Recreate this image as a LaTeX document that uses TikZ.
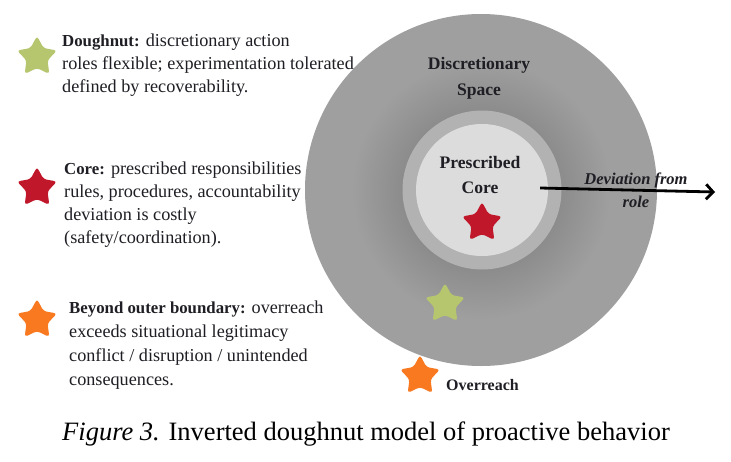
\documentclass[tikz,border=0pt]{standalone}
\usepackage{fontspec}
\setmainfont{Liberation Serif}
\usetikzlibrary{shapes.geometric,arrows.meta}
\definecolor{outerg}{HTML}{9F9F9F}
\definecolor{haloG}{HTML}{8B8B8B}
\definecolor{ringg}{HTML}{B2B2B2}
\definecolor{coreg}{HTML}{DCDCDC}
\definecolor{starG}{HTML}{B5C66F}
\definecolor{starR}{HTML}{C0172A}
\definecolor{starO}{HTML}{F8791F}
\definecolor{txt}{HTML}{1E1E24}
\pgfdeclareradialshading{halo}{\pgfpoint{0bp}{0bp}}{color(0bp)=(haloG); color(11bp)=(haloG); color(18.5bp)=(outerg); color(25bp)=(outerg); color(50bp)=(outerg)}
\newcommand{\lgb}[1]{{\fontsize{16.8}{22}\selectfont\bfseries #1}}
\tikzset{
 starnode/.style={star, star points=5, star point ratio=1.9, minimum size=42pt, inner sep=0pt, rounded corners=3pt, draw=none, fill=#1},
 legend/.style={anchor=base west, inner sep=0pt, font=\fontsize{18.2}{22}\selectfont, text=txt},
 circlabel/.style={anchor=base, inner sep=0pt, font=\fontsize{17.6}{20}\selectfont\bfseries, text=txt},
 devlabel/.style={anchor=base, inner sep=0pt, font=\fontsize{16.5}{20}\selectfont\bfseries\itshape, text=txt},
}
\begin{document}
\begin{tikzpicture}[x=1pt,y=-1pt]
\useasboundingbox[fill=white] (0,0) rectangle (731,461);
% circles
\node[circle, minimum size=352pt, inner sep=0pt, fill=outerg] (outer) at (481,190) {};
\node[circle, minimum size=350pt, inner sep=0pt, shading=halo] (halo) at (481,190) {};
\node[circle, minimum size=159pt, inner sep=0pt, fill=ringg] (ring) at (482,190) {};
\node[circle, minimum size=132pt, inner sep=0pt, fill=coreg] (core) at (482,190) {};
% circle labels
\node[circlabel] (ds1) at (479,69) {Discretionary};
\node[circlabel] (ds2) at (479,95) {Space};
\node[circlabel] (pc1) at (480,168) {Prescribed};
\node[circlabel] (pc2) at (480,193) {Core};
% stars in diagram
\node[starnode=starR] (sr) at (482,223) {};
\node[starnode=starG] (sg) at (445,304) {};
\node[starnode=starO] (so) at (420,376) {};
\node[circlabel, anchor=base west, font=\fontsize{16}{20}\selectfont\bfseries] (ov) at (446,390) {Overreach};
% arrow
\coordinate (arrS) at ([xshift=-8pt,yshift=2pt]core.east);
\coordinate (arrE) at (715,192);
\draw[line width=2.8pt, -{Straight Barb[length=7pt,width=15pt]}] (arrS) -- (arrE);
\node[devlabel] (dv1) at (636,184) {Deviation from};
\node[devlabel] (dv2) at (636,207) {role};
% legend
\node[starnode=starG] (lg) at (37,57) {};
\node[legend] (l1a) at (62,46) {\lgb{Doughnut:} discretionary action};
\node[legend] (l1b) at (62,69) {roles flexible; experimentation tolerated};
\node[legend] (l1c) at (62,92) {defined by recoverability.};
\node[starnode=starR] (lr) at (37,188) {};
\node[legend] (l2a) at (64,174) {\lgb{Core:} prescribed responsibilities};
\node[legend] (l2b) at (64,197) {rules, procedures, accountability};
\node[legend] (l2c) at (64,220) {deviation is costly};
\node[legend] (l2d) at (64,243) {(safety/coordination).};
\node[starnode=starO] (lo) at (37,320) {};
\node[legend] (l3a) at (69,313) {\lgb{Beyond outer boundary:} overreach};
\node[legend] (l3b) at (69,337) {exceeds situational legitimacy};
\node[legend] (l3c) at (69,361) {conflict / disruption / unintended};
\node[legend] (l3d) at (69,385) {consequences.};
% caption
\node[anchor=base, inner sep=0pt, font=\fontsize{26.5}{30}\selectfont, text=black] (cap) at (366,440) {\textit{Figure 3.} Inverted doughnut model of proactive behavior};
\end{tikzpicture}
\end{document}
